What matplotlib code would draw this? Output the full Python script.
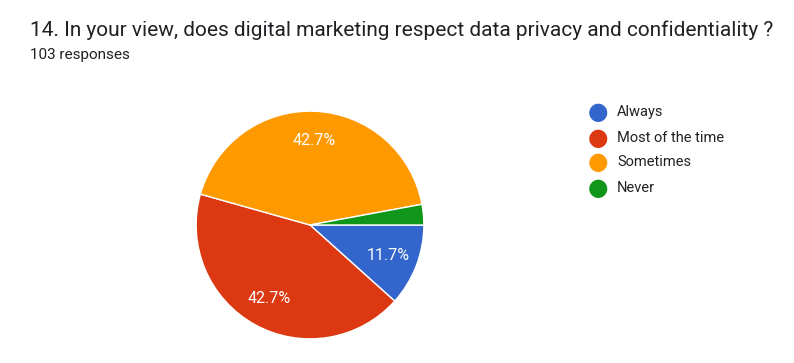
import matplotlib.pyplot as plt

labels = ["Always", "Most of the time", "Sometimes", "Never"]
counts = [12, 44, 44, 3]
colors = ["#3366CC", "#DC3912", "#FF9900", "#109618"]

plt.rcParams['font.family'] = ['Roboto', 'DejaVu Sans']

fig = plt.figure(figsize=(7.94, 3.63), dpi=100)

fig.text(30 / 794, 1 - 30 / 363, "14. In your view, does digital marketing respect data privacy and confidentiality ?",
         fontsize=15, color="#202124", va="center", ha="left")
fig.text(30 / 794, 1 - 55 / 363, "103 responses", fontsize=11, color="#202124", va="center", ha="left")

ax = fig.add_axes([195 / 794, 23 / 363, 230 / 794, 230 / 363])


def fmt(p):
    return f"{p:.1f}%" if p > 5 else ""


wedges, texts, autotexts = ax.pie(counts, colors=colors, startangle=0, counterclock=False,
                                  autopct=fmt, pctdistance=0.74,
                                  wedgeprops=dict(edgecolor="white", linewidth=1),
                                  textprops=dict(color="white", fontsize=11.5))
ax.set_xlim(-1.01, 1.01)
ax.set_ylim(-1.01, 1.01)
ax.set_aspect("equal")

# legend
ys = [112, 138, 162, 188]
for lab, col, y in zip(labels, colors, ys):
    fig.text(598 / 794, 1 - y / 363, "\u25CF", color=col, fontsize=17, ha="center", va="center")
    fig.text(617 / 794, 1 - y / 363, lab, color="#222222", fontsize=10.5, ha="left", va="center")

fig.savefig("out.png", dpi=100, facecolor="white")
